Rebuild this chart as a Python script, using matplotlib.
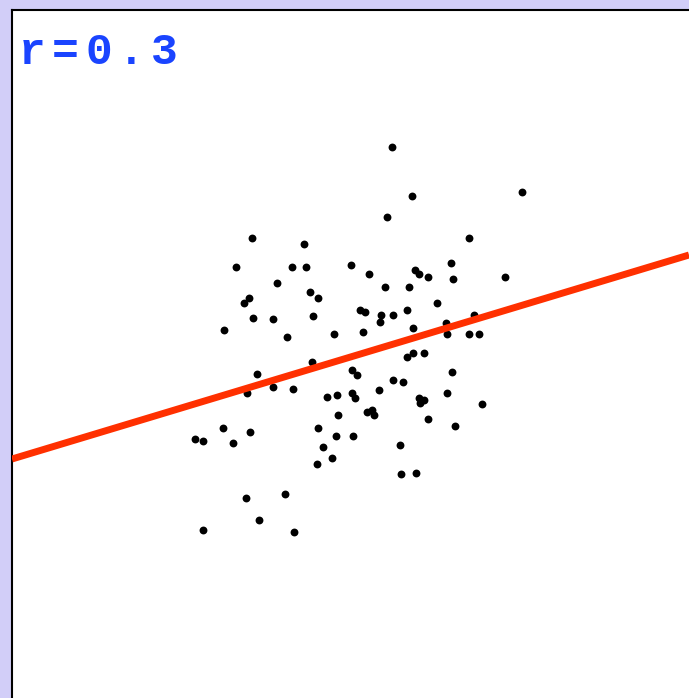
import matplotlib
matplotlib.use("Agg")
import matplotlib.pyplot as plt

# Scatter points (data units: plot-area pixels from lower-left corner)
x_vals = [380, 400, 510, 375, 240, 292, 457, 224, 280, 294, 339, 357, 403, 407, 416,
          439, 441, 493, 265, 298, 306, 237, 232, 373, 397, 241, 261, 301, 425, 348,
          353, 369, 368, 381, 395, 212, 275, 322, 351, 401, 434, 435, 462, 457, 467,
          300, 245, 261, 281, 235, 315, 325, 340, 345, 395, 401, 412, 440, 381, 391,
          367, 340, 343, 407, 412, 408, 435, 470, 326, 355, 360, 362, 416, 443, 211,
          238, 306, 324, 341, 183, 191, 221, 388, 311, 320, 305, 389, 404, 234, 273,
          247, 191, 282]
y_vals = [551, 502, 506, 481, 460, 454, 460, 431, 431, 431, 433, 424, 428, 424, 421,
          435, 419, 421, 415, 406, 400, 400, 395, 411, 411, 380, 379, 382, 395, 388,
          386, 383, 376, 383, 388, 368, 361, 364, 366, 370, 375, 364, 383, 364, 364,
          336, 324, 311, 309, 305, 301, 303, 328, 323, 341, 345, 345, 326, 318, 316,
          308, 305, 300, 300, 298, 295, 305, 294, 283, 286, 288, 283, 279, 272, 270,
          266, 270, 262, 262, 259, 257, 255, 253, 251, 240, 234, 224, 225, 200, 204,
          178, 168, 166]

# Regression line endpoints
fit_x = [0, 677]
fit_y = [239, 443]

label = "r=0.3"

fig = plt.figure(figsize=(6.89, 6.98), dpi=100)
fig.patch.set_facecolor("#d2cef8")
ax = fig.add_axes([12 / 689, 0, 677 / 689, 688 / 698])
ax.set_facecolor("white")
ax.set_xlim(0, 677)
ax.set_ylim(0, 688)
ax.set_xticks([])
ax.set_yticks([])
for side in ("right", "bottom"):
    ax.spines[side].set_visible(False)
for side in ("left", "top"):
    ax.spines[side].set_linewidth(1.5)
    ax.spines[side].set_color("black")

ax.scatter(x_vals, y_vals, s=32, color="black", marker="o", linewidths=0, zorder=2)
ax.plot(fit_x, fit_y, color="#ff3000", linewidth=5, solid_capstyle="butt", zorder=3)

# wide-spaced monospace label
for i, ch in enumerate(label):
    ax.text(7 + 33 * i, 634, ch, family="Liberation Mono", fontweight="bold",
            fontsize=32, color="#1a44ff", ha="left", va="baseline")

fig.savefig("out.png", dpi=100, facecolor=fig.get_facecolor())
